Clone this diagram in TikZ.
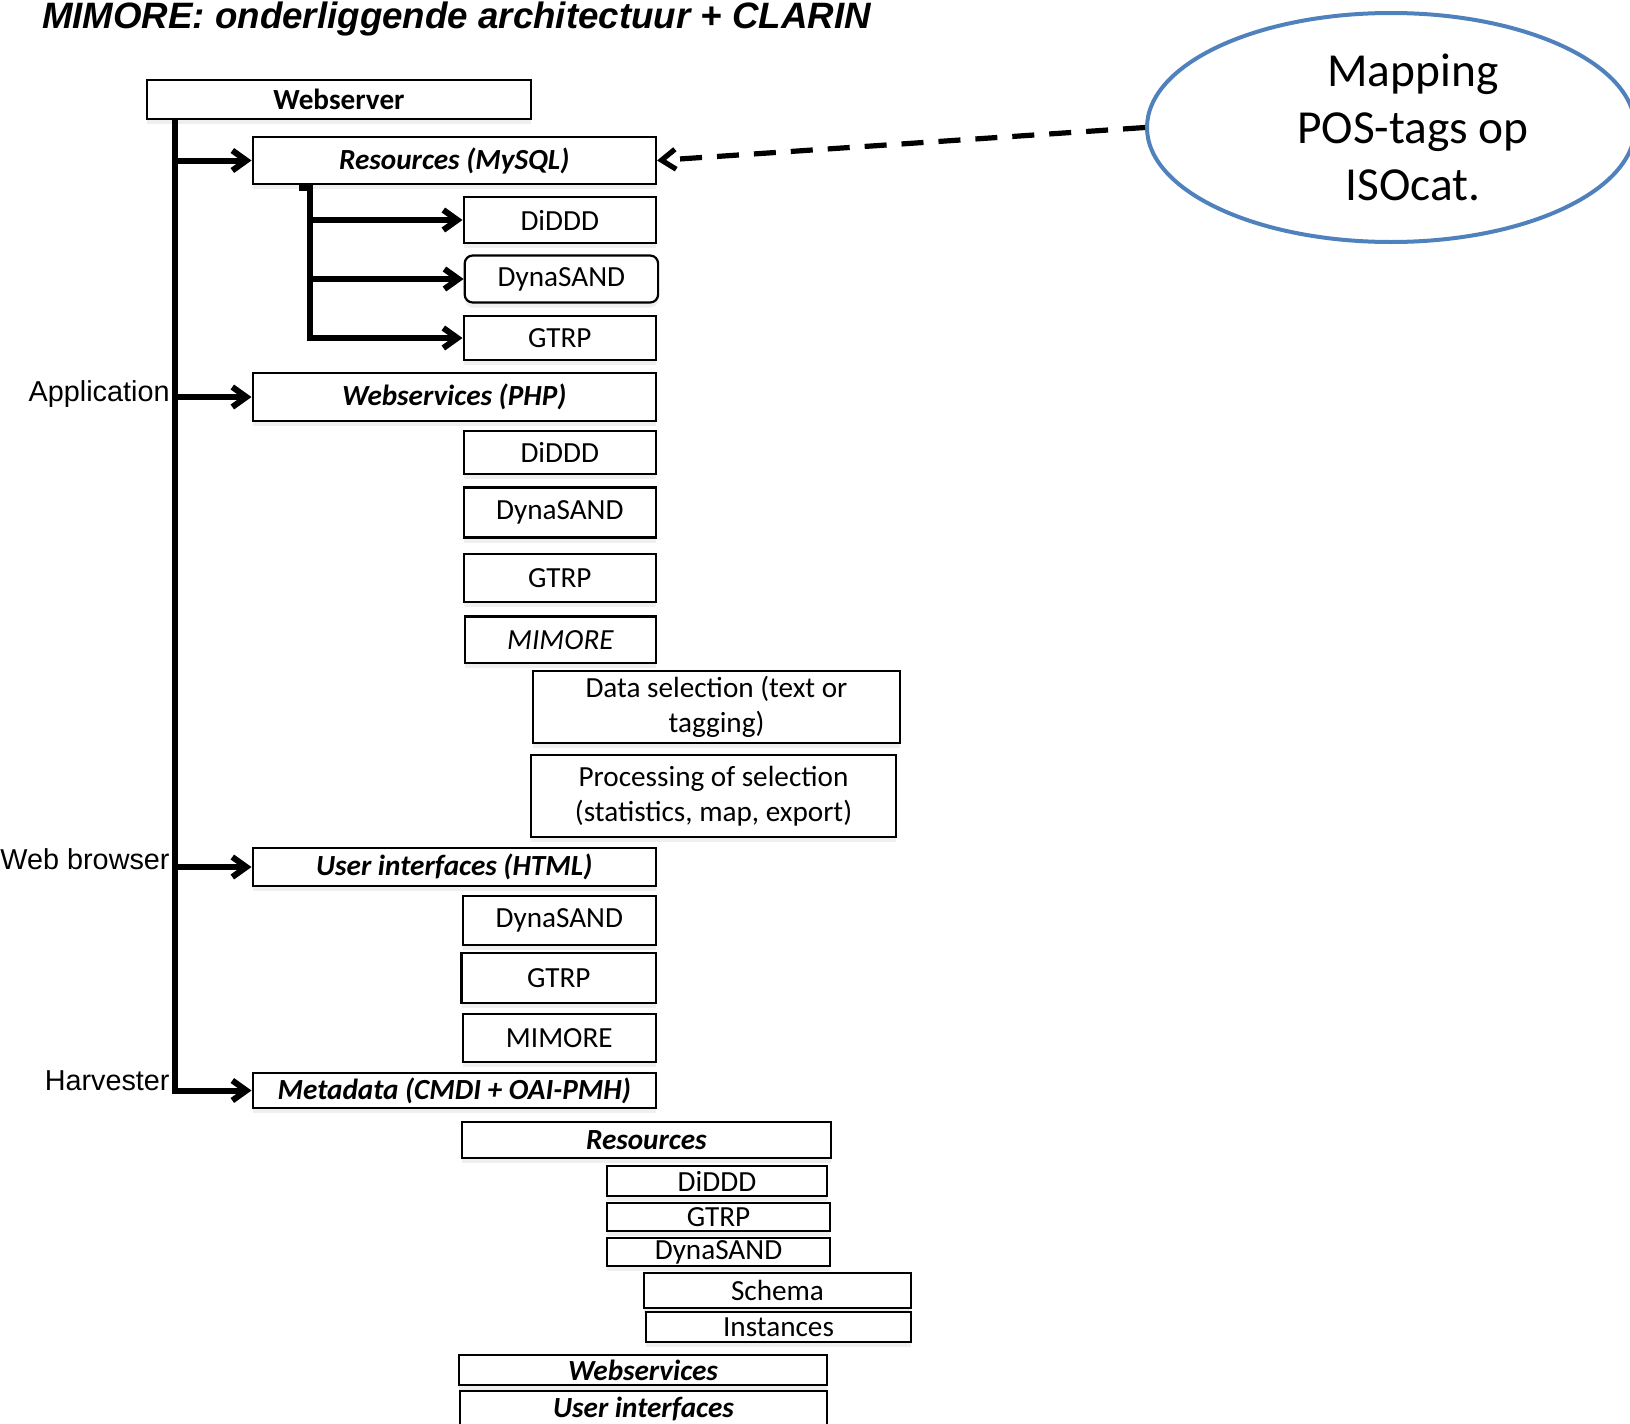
\documentclass[tikz,border=0pt]{standalone}
\usepackage{fontspec}
\setmainfont{Carlito}
\newfontfamily\arialfont{Liberation Sans}
\usepackage{tikz}
\usetikzlibrary{shapes.geometric}
\usetikzlibrary{arrows.meta}
\usetikzlibrary{shadows}
\definecolor{ovalblue}{HTML}{4F81BD}
\tikzset{
    box/.style={draw=black, line width=1.1pt, fill=white, inner sep=0pt, align=center,
        font=\fontsize{14.6}{17.7}\selectfont,
        drop shadow={shadow xshift=0pt, shadow yshift=-2.5pt, fill=black!12}},
    head/.style={box, font=\fontsize{14.6}{17.7}\selectfont\bfseries\itshape},
    branch/.style={draw=black, line width=3pt, -{Straight Barb[length=7pt, width=10pt]}},
    mapline/.style={draw=black, line width=2.6pt, dash pattern=on 11pt off 7.5pt,
        -{Straight Barb[length=7pt, width=10pt]}},
    sidelabel/.style={font=\arialfont\fontsize{14.4}{17}\selectfont, inner sep=0pt, anchor=east}
}

\begin{document}
\begin{tikzpicture}[x=0.5pt, y=-0.5pt]
\useasboundingbox (0,0) rectangle (1630,1424);
\node[anchor=base west, inner sep=0pt, font=\arialfont\bfseries\itshape\fontsize{18.35}{22}\selectfont]
  (title) at (41.6,28) {MIMORE: onderliggende architectuur + CLARIN};

\node[box, font=\fontsize{14.6}{17.7}\selectfont\bfseries, minimum width=192.3pt, minimum height=19.5pt]
  (webserver) at (339,99.5) {Webserver};
\node[head, minimum width=201.7pt, minimum height=23.5pt] (resmysql) at (454.3,160.5) {Resources (MySQL)};
\node[box, minimum width=96.2pt, minimum height=22.8pt] (diddd-a) at (559.8,220) {DiDDD};
\node[box, rounded corners=4pt, minimum width=96.7pt, minimum height=23.5pt] (dynasand-a) at (561.4,279) {DynaSAND};
\node[box, minimum width=96.2pt, minimum height=21.9pt] (gtrp-a) at (559.8,338) {GTRP};

\node[head, minimum width=201.7pt, minimum height=24pt] (wsphp) at (454.3,397) {Webservices (PHP)};
\node[box, minimum width=96.2pt, minimum height=21.5pt] (diddd-b) at (559.8,452.5) {DiDDD};
\node[box, minimum width=96.2pt, minimum height=25pt] (dynasand-b) at (559.8,512.5) {DynaSAND};
\node[box, minimum width=96.2pt, minimum height=24pt] (gtrp-b) at (559.8,578) {GTRP};
\node[box, font=\fontsize{14.6}{17.7}\selectfont\itshape, minimum width=95.7pt, minimum height=23.3pt]
  (mimore-b) at (560.4,639.7) {MIMORE};
\node[box, minimum width=183.5pt, minimum height=35.8pt] (datasel) at (716.5,707) {Data selection (text or\\tagging)};
\node[box, minimum width=182.5pt, minimum height=41pt] (process) at (713.5,796) {Processing of selection\\(statistics, map, export)};

\node[head, minimum width=201.7pt, minimum height=19pt] (uihtml) at (454.3,867) {User interfaces (HTML)};
\node[box, minimum width=96.7pt, minimum height=24.5pt] (dynasand-c) at (559.3,920.5) {DynaSAND};
\node[box, minimum width=97.3pt, minimum height=25pt] (gtrp-c) at (558.8,978) {GTRP};
\node[box, minimum width=96.7pt, minimum height=24.3pt] (mimore-c) at (559.3,1038) {MIMORE};

\node[head, minimum width=201.7pt, minimum height=17.5pt] (metadata) at (454.3,1090.5) {Metadata (CMDI + OAI-PMH)};
\node[head, minimum width=184.3pt, minimum height=18pt] (resources) at (646.3,1140) {Resources};
\node[box, minimum width=110pt, minimum height=15.3pt] (diddd-d) at (717,1181) {DiDDD};
\node[box, minimum width=111.5pt, minimum height=14.3pt] (gtrp-d) at (718.5,1217) {GTRP};
\node[box, minimum width=111.5pt, minimum height=14.3pt] (dynasand-d) at (718.5,1252) {DynaSAND};
\node[box, minimum width=133.5pt, minimum height=17.5pt] (schema) at (777.5,1290.5) {Schema};
\node[box, minimum width=132.5pt, minimum height=15pt] (instances) at (778.5,1327) {Instances};
\node[head, minimum width=184pt, minimum height=15pt] (webservices) at (643,1370) {Webservices};
\node[head, minimum width=183.5pt, minimum height=18pt] (userinterfaces) at (643.5,1409) {User interfaces};

\node[ellipse, draw=ovalblue, line width=2pt, inner sep=0pt, minimum width=244pt, minimum height=114.5pt,
  label={[font=\fontsize{23.7}{28.5}\selectfont, align=center, xshift=11pt]center:Mapping\\POS-tags op\\ISOcat.}]
  (mapping) at (1391,127.5) {};

\node[sidelabel] (application) at (170,394) {Application};
\node[sidelabel] (webbrowser) at (170,859) {Web browser};
\node[sidelabel] (harvester) at (170,1081) {Harvester};

\coordinate (trunktop) at (174.6,118.5);
\draw[branch] (trunktop) |- (metadata.west);
\draw[branch] (trunktop |- resmysql.west) -- (resmysql.west);
\draw[branch] (trunktop |- wsphp.west) -- (wsphp.west);
\draw[branch] (trunktop |- uihtml.west) -- (uihtml.west);

\coordinate (subtop) at (299,188);
\coordinate (subbend) at (310,188);
\draw[branch] (subtop) -- (subbend) |- (gtrp-a.west);
\draw[branch] (subbend |- diddd-a.west) -- (diddd-a.west);
\draw[branch] (subbend |- dynasand-a.west) -- (dynasand-a.west);

\draw[mapline] (mapping.west) -- (resmysql.east);
\end{tikzpicture}
\end{document}
